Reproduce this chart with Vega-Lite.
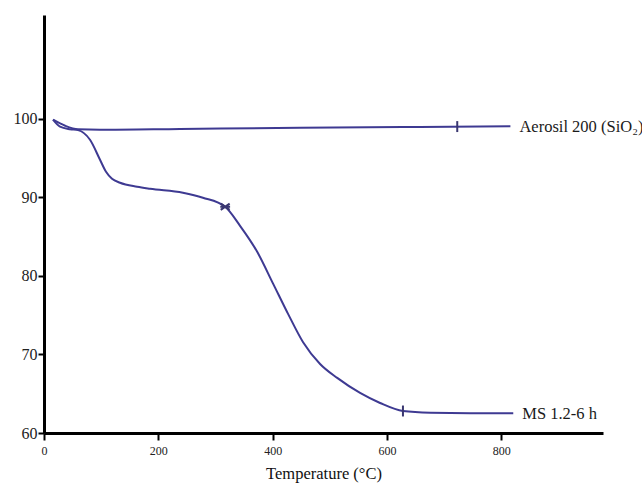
{
  "$schema": "https://vega.github.io/schema/vega-lite/v6.json",
  "autosize": "none",
  "width": 559,
  "height": 418,
  "padding": {"left": 44, "top": 15, "right": 39, "bottom": 54},
  "background": "white",
  "config": {"view": {"stroke": null}, "font": "Liberation Serif"},
  "datasets": {
    "curves": [
      {"series": "MS 1.2-6 h", "T": 15.8, "v": 99.87},
      {"series": "MS 1.2-6 h", "T": 28, "v": 98.98},
      {"series": "MS 1.2-6 h", "T": 45.5, "v": 98.66},
      {"series": "MS 1.2-6 h", "T": 59.5, "v": 98.55},
      {"series": "MS 1.2-6 h", "T": 80.5, "v": 97.32},
      {"series": "MS 1.2-6 h", "T": 98, "v": 94.78},
      {"series": "MS 1.2-6 h", "T": 108.5, "v": 93.25},
      {"series": "MS 1.2-6 h", "T": 119, "v": 92.36},
      {"series": "MS 1.2-6 h", "T": 133, "v": 91.85},
      {"series": "MS 1.2-6 h", "T": 163, "v": 91.34},
      {"series": "MS 1.2-6 h", "T": 185.5, "v": 91.08},
      {"series": "MS 1.2-6 h", "T": 243, "v": 90.57},
      {"series": "MS 1.2-6 h", "T": 278, "v": 89.94},
      {"series": "MS 1.2-6 h", "T": 317, "v": 88.79},
      {"series": "MS 1.2-6 h", "T": 343, "v": 86.37},
      {"series": "MS 1.2-6 h", "T": 373, "v": 83.06},
      {"series": "MS 1.2-6 h", "T": 401, "v": 78.98},
      {"series": "MS 1.2-6 h", "T": 427, "v": 75.16},
      {"series": "MS 1.2-6 h", "T": 453, "v": 71.59},
      {"series": "MS 1.2-6 h", "T": 483, "v": 68.79},
      {"series": "MS 1.2-6 h", "T": 513, "v": 67.01},
      {"series": "MS 1.2-6 h", "T": 553, "v": 65.1},
      {"series": "MS 1.2-6 h", "T": 588, "v": 63.82},
      {"series": "MS 1.2-6 h", "T": 628, "v": 62.8},
      {"series": "MS 1.2-6 h", "T": 676, "v": 62.58},
      {"series": "MS 1.2-6 h", "T": 746, "v": 62.52},
      {"series": "MS 1.2-6 h", "T": 821, "v": 62.52},
      {"series": "Aerosil 200 (SiO₂)", "T": 15.8, "v": 99.87},
      {"series": "Aerosil 200 (SiO₂)", "T": 37, "v": 99.11},
      {"series": "Aerosil 200 (SiO₂)", "T": 59.5, "v": 98.66},
      {"series": "Aerosil 200 (SiO₂)", "T": 98, "v": 98.6},
      {"series": "Aerosil 200 (SiO₂)", "T": 238, "v": 98.7},
      {"series": "Aerosil 200 (SiO₂)", "T": 448, "v": 98.85},
      {"series": "Aerosil 200 (SiO₂)", "T": 658, "v": 98.96},
      {"series": "Aerosil 200 (SiO₂)", "T": 816, "v": 99.04}
    ],
    "markers": [
      {"series": "MS 1.2-6 h", "kind": "star", "T": 317, "v": 88.79},
      {"series": "MS 1.2-6 h", "kind": "tick", "T": 628, "v": 62.8},
      {"series": "Aerosil 200 (SiO₂)", "kind": "tick", "T": 723, "v": 99.0}
    ]
  },
  "layer": [
    {
      "data": {"name": "curves"},
      "mark": {"type": "line", "interpolate": "monotone", "color": "#3e3a92", "strokeWidth": 2},
      "encoding": {
        "x": {
          "field": "T", "type": "quantitative",
          "scale": {"domain": [0, 978], "nice": false},
          "axis": {
            "title": "Temperature (°C)", "values": [0, 200, 400, 600, 800],
            "grid": false, "domainColor": "black", "domainWidth": 3,
            "tickColor": "black", "tickWidth": 2, "tickSize": 7,
            "labelFont": "Liberation Serif", "labelFontSize": 12, "labelColor": "#222",
            "labelPadding": 5, "labelFlush": false,
            "titleFont": "Liberation Serif", "titleFontSize": 16.5, "titleFontWeight": "normal",
            "titleColor": "#111", "titlePadding": 9
          }
        },
        "y": {
          "field": "v", "type": "quantitative",
          "scale": {"domain": [60, 113.2], "nice": false, "zero": false},
          "axis": {
            "title": null, "values": [60, 70, 80, 90, 100],
            "grid": false, "domainColor": "black", "domainWidth": 3,
            "tickColor": "black", "tickWidth": 2, "tickSize": 6,
            "labelFont": "Liberation Serif", "labelFontSize": 16, "labelColor": "#222",
            "labelPadding": 1
          }
        },
        "detail": {"field": "series"}
      }
    },
    {
      "data": {"name": "curves"},
      "transform": [
        {"joinaggregate": [{"op": "max", "field": "T", "as": "maxT"}], "groupby": ["series"]},
        {"filter": "datum.T === datum.maxT"}
      ],
      "mark": {"type": "text", "align": "left", "baseline": "middle", "dx": 9, "dy": 1, "font": "Liberation Serif", "fontSize": 16.5, "color": "#1a1a1a"},
      "encoding": {
        "x": {"field": "T", "type": "quantitative"},
        "y": {"field": "v", "type": "quantitative"},
        "text": {"field": "series"}
      }
    },
    {
      "data": {"name": "markers"},
      "transform": [{"filter": "datum.kind === 'tick'"}],
      "mark": {"type": "point", "shape": "M0,-1L0,1", "size": 120, "stroke": "#3a3770", "strokeWidth": 2, "filled": false, "opacity": 1},
      "encoding": {
        "x": {"field": "T", "type": "quantitative"},
        "y": {"field": "v", "type": "quantitative"}
      }
    },
    {
      "data": {"name": "markers"},
      "transform": [{"filter": "datum.kind === 'star'"}],
      "mark": {"type": "point", "shape": "M-1,-0.7L1,0.7M-1,0.7L1,-0.7M-1.1,0L1.1,0", "size": 80, "stroke": "#3a3770", "strokeWidth": 2, "filled": false, "opacity": 1},
      "encoding": {
        "x": {"field": "T", "type": "quantitative"},
        "y": {"field": "v", "type": "quantitative"}
      }
    }
  ]
}
